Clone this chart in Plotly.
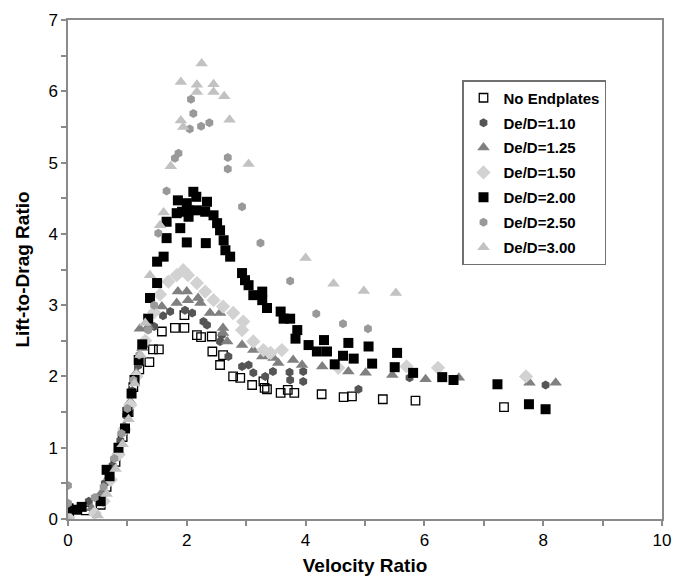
import plotly.graph_objects as go

# ---------------- data ----------------
no_end_x = [0.02, 0.30, 0.55, 0.65, 0.80, 0.92, 1.02, 1.10, 1.20, 1.37, 1.43, 1.53, 1.58, 1.80, 1.96, 1.96,
            2.17, 2.24, 2.42, 2.43, 2.56, 2.61, 2.78, 2.90, 3.10, 3.29, 3.31, 3.35, 3.58, 3.70, 3.81,
            4.27, 4.64, 4.78, 5.30, 5.85, 7.34]
no_end_y = [0.05, 0.12, 0.20, 0.45, 0.80, 1.15, 1.50, 1.85, 2.10, 2.20, 2.38, 2.38, 2.63, 2.68, 2.68, 2.86,
            2.58, 2.55, 2.56, 2.35, 2.16, 2.30, 2.00, 1.98, 1.88, 1.93, 1.84, 1.82, 1.77, 1.81, 1.77,
            1.75, 1.71, 1.72, 1.68, 1.66, 1.57]

d110_x = [0.00, 0.35, 0.50, 0.62, 0.75, 0.88, 0.98, 1.08, 1.18, 1.30, 1.45, 1.60, 1.72, 1.97, 2.09, 2.28,
          2.34, 2.59, 2.56, 2.70, 2.93, 3.04, 3.12, 3.32, 3.45, 3.73, 3.74, 3.96, 3.96, 4.89, 5.75, 8.04]
d110_y = [0.10, 0.25, 0.30, 0.50, 0.75, 1.10, 1.45, 1.80, 2.15, 2.45, 2.70, 2.85, 2.91, 2.93, 2.89, 2.77,
          2.72, 2.58, 2.49, 2.28, 2.14, 2.16, 2.05, 2.00, 2.07, 2.06, 1.95, 1.93, 2.07, 1.82, 1.98, 1.88]

d125_x = [0.00, 0.40, 0.55, 0.70, 0.85, 0.95, 1.05, 1.15, 1.21, 1.25, 1.35, 1.45, 1.58, 1.83, 1.85, 2.00,
          2.02, 2.19, 2.23, 2.39, 2.56, 2.61, 2.61, 2.68, 2.93, 3.12, 3.27, 3.46, 3.54, 3.79, 3.94,
          4.28, 4.72, 5.01, 5.46, 6.02, 6.58, 7.77, 8.21]
d125_y = [0.05, 0.15, 0.35, 0.60, 0.95, 1.30, 1.65, 2.05, 2.67, 2.40, 2.70, 2.90, 2.98, 3.03, 3.19, 3.19,
          3.07, 3.10, 3.03, 2.89, 2.89, 2.68, 2.61, 2.49, 2.44, 2.37, 2.28, 2.26, 2.19, 2.23, 2.16,
          2.14, 2.07, 2.05, 2.02, 1.96, 1.98, 1.91, 1.91]

d150_x = [0.00, 0.45, 0.60, 0.72, 0.85, 0.95, 1.05, 1.15, 1.30, 1.45, 1.55, 1.69, 1.83, 1.94, 2.02, 2.17,
          2.31, 2.45, 2.61, 2.78, 2.95, 2.93, 3.12, 3.29, 3.41, 3.60, 4.55, 5.70, 6.23, 7.71]
d150_y = [0.02, 0.08, 0.25, 0.55, 0.90, 1.25, 1.60, 2.00, 2.50, 2.90, 3.15, 3.33, 3.42, 3.49, 3.42, 3.31,
          3.19, 3.07, 2.98, 2.89, 2.77, 2.65, 2.49, 2.37, 2.33, 2.37, 2.12, 2.14, 2.12, 2.00]

d200_x = [0.01, 0.15, 0.23, 0.55, 0.65, 0.70, 0.85, 0.96, 1.00, 1.07, 1.12, 1.19, 1.25, 1.35, 1.38, 1.50,
          1.50, 1.61, 1.66, 1.66, 1.83, 1.85, 1.92, 1.89, 2.00, 2.03, 2.03, 2.00, 2.11, 2.16, 2.17,
          2.31, 2.34, 2.32, 2.45, 2.51, 2.56, 2.62, 2.65, 2.73, 2.93, 2.98, 3.04, 3.12, 3.27, 3.27,
          3.35, 3.58, 3.63, 3.74, 3.86, 3.83, 4.05, 4.19, 4.31, 4.36, 4.49, 4.63, 4.72, 4.81, 5.06,
          5.12, 5.54, 5.50, 5.81, 6.30, 6.49, 7.23, 7.76, 8.04]
d200_y = [0.15, 0.13, 0.17, 0.25, 0.69, 0.60, 1.00, 1.27, 1.50, 1.76, 1.95, 2.23, 2.45, 2.81, 3.10, 3.31,
          3.61, 3.68, 3.94, 4.17, 4.29, 4.47, 4.31, 4.08, 4.43, 4.33, 4.24, 3.88, 4.59, 4.52, 4.33,
          4.31, 4.45, 3.87, 4.26, 4.15, 4.05, 3.91, 3.77, 3.68, 3.45, 3.35, 3.28, 3.14, 3.19, 3.07,
          2.96, 2.91, 2.81, 2.81, 2.65, 2.53, 2.44, 2.35, 2.51, 2.35, 2.17, 2.29, 2.47, 2.25, 2.42,
          2.18, 2.33, 2.13, 2.05, 1.99, 1.95, 1.89, 1.61, 1.54]

d250_x = [0.00, 0.00, 0.45, 0.60, 0.78, 0.90, 1.00, 1.10, 1.20, 1.35, 1.45, 1.52, 1.66, 1.80, 1.86, 2.05,
          2.07, 2.11, 2.24, 2.38, 2.69, 2.69, 2.93, 3.24, 3.74, 4.18, 4.63, 5.05]
d250_y = [0.47, 0.22, 0.30, 0.45, 0.85, 1.20, 1.55, 1.95, 2.30, 2.65, 3.00, 4.01, 4.60, 5.06, 5.13, 5.47,
          5.89, 5.69, 5.51, 5.56, 5.07, 4.91, 4.38, 3.87, 3.34, 2.88, 2.74, 2.67]

d300_x = [0.00, 0.50, 0.65, 0.80, 0.92, 1.02, 1.12, 1.22, 1.30, 1.38, 1.55, 1.61, 1.73, 1.90, 1.94, 1.90,
          2.17, 2.17, 2.25, 2.45, 2.45, 2.63, 2.72, 3.04, 4.00, 4.47, 4.98, 5.52]
d300_y = [0.00, 0.05, 0.35, 0.70, 1.05, 1.40, 1.90, 2.30, 2.75, 3.42, 4.12, 4.30, 4.95, 5.59, 5.50, 6.13,
          6.09, 5.99, 6.39, 6.10, 5.99, 5.93, 5.60, 4.98, 3.66, 3.30, 3.20, 3.17]

series_names = ["No Endplates", "De/D=1.10", "De/D=1.25", "De/D=1.50", "De/D=2.00", "De/D=2.50", "De/D=3.00"]

x_ticks = [0, 2, 4, 6, 8, 10]
y_ticks = [0, 1, 2, 3, 4, 5, 6, 7]

# ---------------- styles ----------------
styles = [
    dict(symbol="square-open", color="black", size=8.5, line=dict(width=1.3, color="black")),
    dict(symbol="hexagon", color="#555555", size=9, line=dict(width=0)),
    dict(symbol="triangle-up", color="#808080", size=11, line=dict(width=0)),
    dict(symbol="diamond", color="#d2d2d2", size=11, line=dict(width=0)),
    dict(symbol="square", color="black", size=10, line=dict(width=0)),
    dict(symbol="hexagon", color="#999999", size=9, line=dict(width=0)),
    dict(symbol="triangle-up", color="#c2c2c2", size=11, line=dict(width=0)),
]

data = [(no_end_x, no_end_y), (d110_x, d110_y), (d125_x, d125_y), (d150_x, d150_y),
        (d200_x, d200_y), (d250_x, d250_y), (d300_x, d300_y)]

fig = go.Figure()
for i, ((xs, ys), name, st) in enumerate(zip(data, series_names, styles)):
    fig.add_trace(go.Scatter(x=xs, y=ys, mode="markers", name=name, legendgroup=f"g{i}",
                             marker=dict(symbol=st["symbol"], color=st["color"], size=st["size"],
                                         line=st["line"])))

axis_common = dict(showgrid=False, zeroline=False, showline=True, mirror=True, automargin=False,
                   linecolor="#8a8a8a", linewidth=1.5, ticks="outside", ticklen=5,
                   tickcolor="#8a8a8a", tickwidth=1.5,
                   tickfont=dict(family="Liberation Sans, Arial", size=17, color="black"))

fig.update_xaxes(range=[0, 10], tickvals=x_ticks, ticktext=[str(v) for v in x_ticks],
                 minor=dict(dtick=1, ticklen=5, tickcolor="#8a8a8a", tickwidth=1.5, ticks="outside"),
                 title=dict(text="<b>Velocity Ratio</b>", standoff=10,
                            font=dict(family="Liberation Sans, Arial", size=19, color="black")),
                 **axis_common)
fig.update_yaxes(range=[0, 7], tickvals=y_ticks, ticktext=[str(v) for v in y_ticks],
                 minor=dict(dtick=0.5, ticklen=5, tickcolor="#8a8a8a", tickwidth=1.5, ticks="outside"),
                 title=dict(text="<b>Lift-to-Drag Ratio</b>", standoff=14,
                            font=dict(family="Liberation Sans, Arial", size=19, color="black")),
                 **axis_common)

# page body has an 8px margin, so figure coordinates are offset by 8px on screen
plot_l, plot_r, plot_t, plot_b = 60, 654, 12, 511
fig.update_layout(
    width=689, height=576,
    margin=dict(l=plot_l, r=689 - plot_r, t=plot_t, b=576 - plot_b),
    paper_bgcolor="white", plot_bgcolor="white",
    showlegend=True,
    legend=dict(x=(454 - plot_l) / (plot_r - plot_l), y=(plot_b - 72) / (plot_b - plot_t),
                xanchor="left", yanchor="top",
                bgcolor="white", bordercolor="#707070", borderwidth=1.5,
                font=dict(family="Liberation Sans, Arial", size=15, color="black", weight="bold"),
                itemwidth=30, tracegroupgap=2.4),
)

fig.write_html("out.html")
